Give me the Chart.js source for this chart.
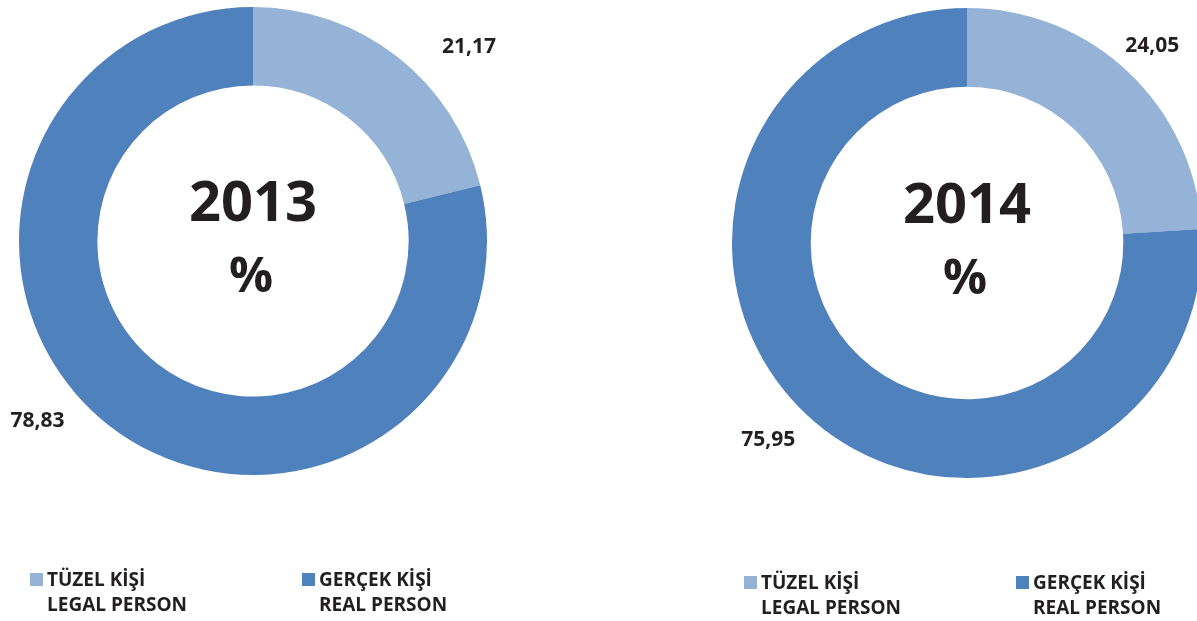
<!DOCTYPE html>
<html>
<head>
<meta charset="utf-8">
<script src="https://cdn.jsdelivr.net/npm/chart.js@4"></script>
<style>
  html, body { margin: 0; padding: 0; background: #fff; overflow: hidden; width: 1197px; height: 621px; }
  .box { position: absolute; top: 0; width: 520px; height: 621px; }
</style>
</head>
<body>
<div class="box" style="left:0px"><canvas id="chart2013"></canvas></div>
<div class="box" style="left:700px"><canvas id="chart2014"></canvas></div>
<script>
// Data
const categories = ['TÜZEL KİŞİ', 'GERÇEK KİŞİ'];
const categoriesEn = ['LEGAL PERSON', 'REAL PERSON'];
const years = ['2013', '2014'];
const values2013 = [21.17, 78.83];
const values2014 = [24.05, 75.95];
const colors = ['#95B3D7', '#4F81BD'];

// label placement tweaks (degrees, radius factor) per chart
const labelNudge = {
    '2013': [[10, 1.24], [12, 1.2]],
    '2014': [[0, 1.15], [2, 1.19]]
};

const fontFamily = '"Open Sans", "Noto Sans", sans-serif';

// draws value labels, center title and the two-line legend
const doughnutExtras = {
    id: 'doughnutExtras',
    afterDraw(chart, args, opts) {
        const ctx = chart.ctx;
        const meta = chart.getDatasetMeta(0);
        const ds = chart.data.datasets[0];
        const first = meta.data[0];
        const cx = first.x, cy = first.y;

        ctx.save();
        ctx.fillStyle = '#231F20';
        ctx.textAlign = 'center';
        ctx.textBaseline = 'middle';

        // value labels
        ctx.font = 'bold 21px ' + fontFamily;
        meta.data.forEach((arc, i) => {
            const p = arc.getProps(['startAngle', 'endAngle', 'outerRadius']);
            const nudge = opts.nudge[i];
            const a = (p.startAngle + p.endAngle) / 2 + nudge[0] * Math.PI / 180;
            const r = p.outerRadius * nudge[1];
            const txt = ds.data[i].toFixed(2).replace('.', ',');
            ctx.fillText(txt, cx + r * Math.cos(a), cy + r * Math.sin(a));
        });

        // center text
        ctx.font = 'bold 56px ' + fontFamily;
        ctx.fillText(opts.year, cx, cy - 36);
        ctx.font = 'bold 49px ' + fontFamily;
        ctx.fillText('%', cx - 2, cy + 37);

        // legend
        ctx.textAlign = 'left';
        ctx.textBaseline = 'alphabetic';
        ctx.font = 'bold 19px ' + fontFamily;
        const offsets = [-223, 49];
        chart.data.labels.forEach((lab, i) => {
            const x = cx + offsets[i];
            const y = cy + opts.legendDy;
            ctx.fillStyle = ds.backgroundColor[i];
            ctx.fillRect(x, y, 13, 13);
            ctx.fillStyle = '#231F20';
            ctx.fillText(lab, x + 17, y + 13);
            ctx.fillText(opts.labelsEn[i], x + 17, y + 38);
        });
        ctx.restore();
    }
};

function makeChart(id, year, values, padding, legendDy) {
    return new Chart(document.getElementById(id), {
        type: 'doughnut',
        data: {
            labels: categories,
            datasets: [{
                data: values,
                backgroundColor: colors,
                borderWidth: 0
            }]
        },
        options: {
            responsive: false,
            animation: false,
            cutout: '66.5%',
            layout: { padding: padding },
            plugins: {
                legend: { display: false },
                tooltip: { enabled: false },
                doughnutExtras: {
                    year: year,
                    nudge: labelNudge[year],
                    labelsEn: categoriesEn,
                    legendDy: legendDy
                }
            }
        },
        plugins: [doughnutExtras]
    });
}

['chart2013', 'chart2014'].forEach(id => {
    const c = document.getElementById(id);
    c.width = 520; c.height = 621;
});

makeChart('chart2013', years[0], values2013, { left: 19, top: 7, right: 33, bottom: 146 }, 332);
makeChart('chart2014', years[1], values2014, { left: 32, top: 8, right: 18, bottom: 143 }, 333);
</script>
</body>
</html>
